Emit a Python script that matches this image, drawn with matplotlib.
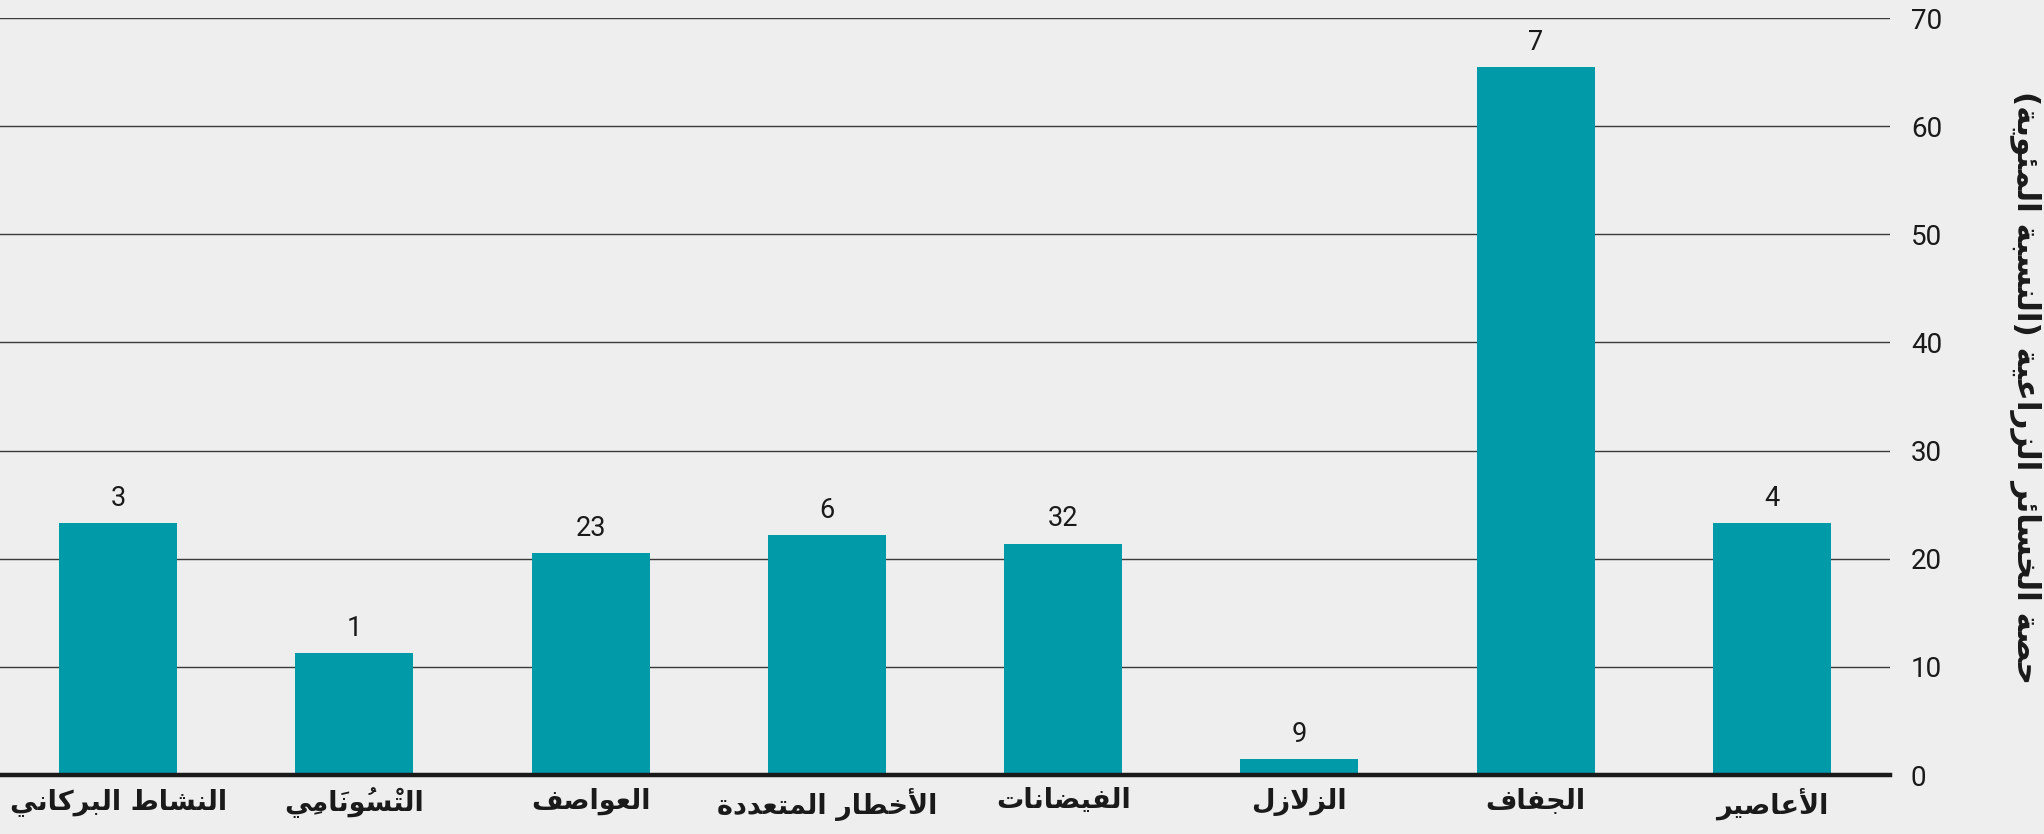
import matplotlib
matplotlib.use('Agg')
import matplotlib.pyplot as plt

# ---------------- data ----------------
categories = ["النشاط البركاني", "التْسُونَامِي", "العواصف", "الأخطار المتعددة",
              "الفيضانات", "الزلازل", "الجفاف", "الأعاصير"]
values = [23.3, 11.3, 20.5, 22.2, 21.4, 1.5, 65.5, 23.3]
counts = ["3", "1", "23", "6", "32", "9", "7", "4"]
yticks = [0, 10, 20, 30, 40, 50, 60, 70]
ylabel = "حصة الخسائر الزراعية (النسبة المئوية)"

# ---------------- Arabic shaping (matplotlib has no complex text layout) ----------------
FORMS = {
    'ا': ('\uFE8D', '\uFE8E', None, None), 'أ': ('\uFE83', '\uFE84', None, None),
    'إ': ('\uFE87', '\uFE88', None, None), 'آ': ('\uFE81', '\uFE82', None, None),
    'ب': ('\uFE8F', '\uFE90', '\uFE91', '\uFE92'), 'ة': ('\uFE93', '\uFE94', None, None),
    'ت': ('\uFE95', '\uFE96', '\uFE97', '\uFE98'), 'ث': ('\uFE99', '\uFE9A', '\uFE9B', '\uFE9C'),
    'ج': ('\uFE9D', '\uFE9E', '\uFE9F', '\uFEA0'), 'ح': ('\uFEA1', '\uFEA2', '\uFEA3', '\uFEA4'),
    'خ': ('\uFEA5', '\uFEA6', '\uFEA7', '\uFEA8'), 'د': ('\uFEA9', '\uFEAA', None, None),
    'ذ': ('\uFEAB', '\uFEAC', None, None), 'ر': ('\uFEAD', '\uFEAE', None, None),
    'ز': ('\uFEAF', '\uFEB0', None, None), 'س': ('\uFEB1', '\uFEB2', '\uFEB3', '\uFEB4'),
    'ش': ('\uFEB5', '\uFEB6', '\uFEB7', '\uFEB8'), 'ص': ('\uFEB9', '\uFEBA', '\uFEBB', '\uFEBC'),
    'ض': ('\uFEBD', '\uFEBE', '\uFEBF', '\uFEC0'), 'ط': ('\uFEC1', '\uFEC2', '\uFEC3', '\uFEC4'),
    'ظ': ('\uFEC5', '\uFEC6', '\uFEC7', '\uFEC8'), 'ع': ('\uFEC9', '\uFECA', '\uFECB', '\uFECC'),
    'غ': ('\uFECD', '\uFECE', '\uFECF', '\uFED0'), 'ف': ('\uFED1', '\uFED2', '\uFED3', '\uFED4'),
    'ق': ('\uFED5', '\uFED6', '\uFED7', '\uFED8'), 'ك': ('\uFED9', '\uFEDA', '\uFEDB', '\uFEDC'),
    'ل': ('\uFEDD', '\uFEDE', '\uFEDF', '\uFEE0'), 'م': ('\uFEE1', '\uFEE2', '\uFEE3', '\uFEE4'),
    'ن': ('\uFEE5', '\uFEE6', '\uFEE7', '\uFEE8'), 'ه': ('\uFEE9', '\uFEEA', '\uFEEB', '\uFEEC'),
    'و': ('\uFEED', '\uFEEE', None, None), 'ى': ('\uFEEF', '\uFEF0', '\uFBE8', '\uFBE9'),
    'ي': ('\uFEF1', '\uFEF2', '\uFEF3', '\uFEF4'), 'ئ': ('\uFE89', '\uFE8A', '\uFE8B', '\uFE8C'),
    'ؤ': ('\uFE85', '\uFE86', None, None),
}
LAMALEF = {'ا': ('\uFEFB', '\uFEFC'), 'أ': ('\uFEF7', '\uFEF8'),
           'إ': ('\uFEF9', '\uFEFA'), 'آ': ('\uFEF5', '\uFEF6')}
MIRROR = {'(': ')', ')': '('}


def is_mark(c):
    return '\u064B' <= c <= '\u0652' or c == '\u0670'


def dual(c):
    return c in FORMS and FORMS[c][2] is not None


def shape(text):
    clusters = []
    for ch in text:
        if is_mark(ch) and clusters:
            clusters[-1][1].append(ch)
        else:
            clusters.append([ch, []])
    out = []
    i = 0
    n = len(clusters)
    while i < n:
        b, marks = clusters[i]
        prev_b = clusters[i - 1][0] if i > 0 else None
        next_b = clusters[i + 1][0] if i + 1 < n else None
        if b in FORMS:
            cprev = prev_b is not None and dual(prev_b)
            if b == 'ل' and next_b in LAMALEF:
                g = LAMALEF[next_b][1 if cprev else 0]
                out.append([g, marks + clusters[i + 1][1]])
                i += 2
                continue
            cnext = dual(b) and next_b is not None and next_b in FORMS
            iso, fin, ini, med = FORMS[b]
            if cprev and cnext:
                g = med
            elif cprev:
                g = fin
            elif cnext:
                g = ini
            else:
                g = iso
            out.append([g, marks])
        else:
            out.append([MIRROR.get(b, b), marks])
        i += 1
    out.reverse()
    # zero-width marks are drawn from the pen position onward, so they go
    # just before their base glyph in visual order
    return ''.join(''.join(m) + g for g, m in out)


# ---------------- style ----------------
BG = '#EFEEEE'
BAR = '#009AA9'
GRID = '#3a3a3a'
TXT = '#1a1a1a'
ARFONT = ['DejaVu Sans']
NUMFONT = ['Roboto', 'DejaVu Sans']

fig = plt.figure(figsize=(20.44, 8.34), dpi=100, facecolor=BG)
ax = fig.add_axes([0.0, 0.0707, 0.9247, 0.9077])
ax.set_facecolor(BG)

x = list(range(len(categories)))
bars = ax.bar(x, values, width=0.5, color=BAR, zorder=3)

ax.set_xlim(-0.5, 7.5)
ax.set_ylim(0, 70)
ax.set_yticks(yticks)
ax.yaxis.tick_right()
ax.tick_params(axis='y', length=0, pad=15, labelsize=20, labelcolor=TXT)
for lab in ax.get_yticklabels():
    lab.set_fontfamily(NUMFONT)
ax.yaxis.grid(True, color=GRID, linewidth=1.0, zorder=0)
ax.set_axisbelow(True)

ax.set_xticks(x)
ax.set_xticklabels([shape(c) for c in categories], fontfamily=ARFONT,
                   fontweight='bold', fontsize=19.5, color=TXT)
ax.tick_params(axis='x', length=0, pad=9)

for s in ['top', 'left', 'right']:
    ax.spines[s].set_visible(False)
ax.spines['bottom'].set_color('#1a1a1a')
ax.spines['bottom'].set_linewidth(3.2)
ax.spines['bottom'].set_zorder(4)

for b, c in zip(bars, counts):
    ax.annotate(c, (b.get_x() + b.get_width() / 2, b.get_height()),
                xytext=(0, 8), textcoords='offset points', ha='center', va='bottom',
                fontsize=19.5, color=TXT, fontfamily=NUMFONT)

fig.text(0.9905, 0.535, shape(ylabel), rotation=270, ha='center', va='center',
         fontsize=22.5, fontweight='bold', color=TXT, fontfamily=ARFONT)

fig.savefig('out.png', dpi=100, facecolor=BG)
